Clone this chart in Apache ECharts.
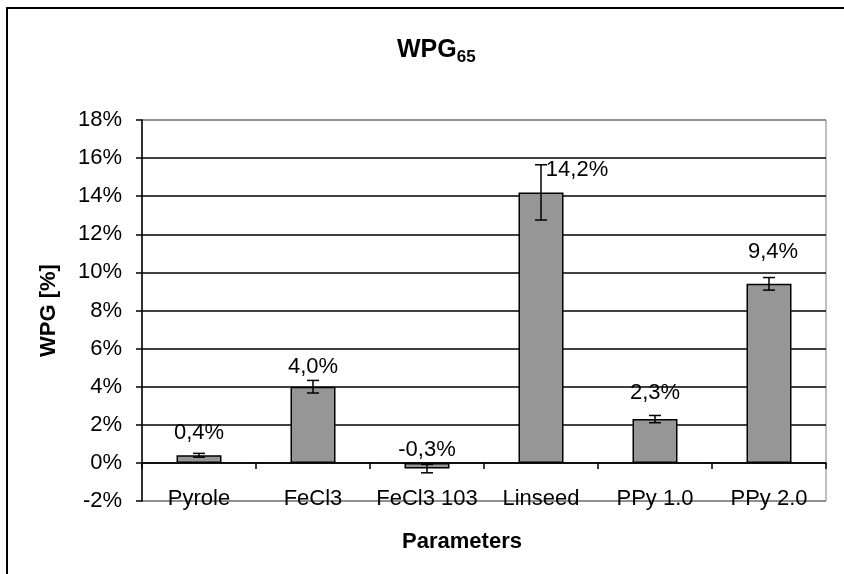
<!DOCTYPE html>
<html>
<head>
<meta charset="utf-8">
<script src="https://cdn.jsdelivr.net/npm/echarts@6/dist/echarts.min.js"></script>
<style>html,body{margin:0;padding:0;background:#fff}#c{width:844px;height:574px}</style>
</head>
<body>
<div id="c"></div>
<script>
const categories = ['Pyrole', 'FeCl3', 'FeCl3 103', 'Linseed', 'PPy 1.0', 'PPy 2.0'];
const values = [0.4, 4.0, -0.3, 14.2, 2.3, 9.4];
const errors = [0.1, 0.33, 0.22, 1.45, 0.19, 0.33];
const yTicks = { min: -2, max: 18, interval: 2 };

const FONT = 'Arial, "Liberation Sans", sans-serif';
// label placement tweaks (layout only)
const labelDist = [11, 9, 2, 11, 15, 21];
const labelShiftX = [0, 0, 0, 36, 0, 4];

const fmt = v => v.toFixed(1).replace('.', ',') + '%';

const chart = echarts.init(document.getElementById('c'), null, { renderer: 'canvas' });
const splitColors = ['#808080'];
for (let i = 0; i < 9; i++) splitColors.push('#000');
splitColors.push('#808080');

const option = {
  animation: false,
  backgroundColor: '#fff',
  title: {
    text: '{a|WPG}{b|65}',
    left: 392, top: 30,
    textStyle: {
      rich: {
        a: { fontFamily: FONT, fontSize: 25, fontWeight: 'bold', color: '#000' },
        b: { fontFamily: FONT, fontSize: 17, fontWeight: 'bold', color: '#000', verticalAlign: 'bottom', padding: [14, 0, 0, 0] }
      }
    }
  },
  graphic: [{
    type: 'rect', z: -1,
    shape: { x: 7, y: 8, width: 900, height: 700 },
    style: { fill: 'none', stroke: '#000', lineWidth: 2 }
  }],
  grid: { left: 142, right: 18, top: 120, bottom: 73, show: true, borderColor: '#808080', borderWidth: 1, backgroundColor: 'transparent' },
  xAxis: [{
    type: 'category', data: categories,
    axisLine: { onZero: true, lineStyle: { color: '#000', width: 1.5 } },
    axisTick: { show: true, length: 6, lineStyle: { color: '#000', width: 1.5 } },
    axisLabel: { show: false },
    splitLine: { show: false }
  }, {
    type: 'category', data: categories, position: 'bottom',
    axisLine: { show: false, onZero: false },
    axisTick: { show: false },
    axisLabel: { interval: 0, margin: -13, fontFamily: FONT, fontSize: 22, color: '#000' },
    name: 'Parameters', nameLocation: 'middle', nameGap: 30,
    nameTextStyle: { fontFamily: FONT, fontSize: 22, fontWeight: 'bold', color: '#000', padding: [0, 44, 0, 0] }
  }],
  yAxis: {
    type: 'value', min: yTicks.min, max: yTicks.max, interval: yTicks.interval,
    axisLine: { show: true, lineStyle: { color: '#000', width: 1.5 } },
    axisTick: { show: true, length: 6, lineStyle: { color: '#000', width: 1.5 } },
    axisLabel: { formatter: '{value}%', margin: 20, fontFamily: FONT, fontSize: 22, color: '#000' },
    splitLine: { show: true, lineStyle: { color: splitColors, width: 1.5 } },
    name: 'WPG [%]', nameLocation: 'middle', nameGap: 82, nameRotate: 90,
    nameTextStyle: { fontFamily: FONT, fontSize: 22, fontWeight: 'bold', color: '#000' }
  },
  series: [{
    type: 'bar', xAxisIndex: 0, barWidth: 45,
    itemStyle: { color: '#969696', borderColor: '#000', borderWidth: 1.5 },
    data: values.map((v, i) => ({
      value: v,
      label: { distance: labelDist[i], offset: [labelShiftX[i], 0] }
    })),
    label: {
      show: true, position: 'top', fontFamily: FONT, fontSize: 22, color: '#000',
      formatter: p => fmt(p.value)
    },
    z: 2
  }, {
    type: 'custom', xAxisIndex: 0, z: 3,
    data: values.map((v, i) => [i, v - errors[i], v + errors[i]]),
    renderItem: (params, api) => {
      const lo = api.coord([api.value(0), api.value(1)]);
      const hi = api.coord([api.value(0), api.value(2)]);
      const x = lo[0], hw = 6;
      const st = { stroke: '#000', lineWidth: 1.5 };
      return {
        type: 'group', children: [
          { type: 'line', shape: { x1: x, y1: lo[1], x2: x, y2: hi[1] }, style: st },
          { type: 'line', shape: { x1: x - hw, y1: lo[1], x2: x + hw, y2: lo[1] }, style: st },
          { type: 'line', shape: { x1: x - hw, y1: hi[1], x2: x + hw, y2: hi[1] }, style: st }
        ]
      };
    }
  }]
};
chart.setOption(option);
</script>
</body>
</html>
